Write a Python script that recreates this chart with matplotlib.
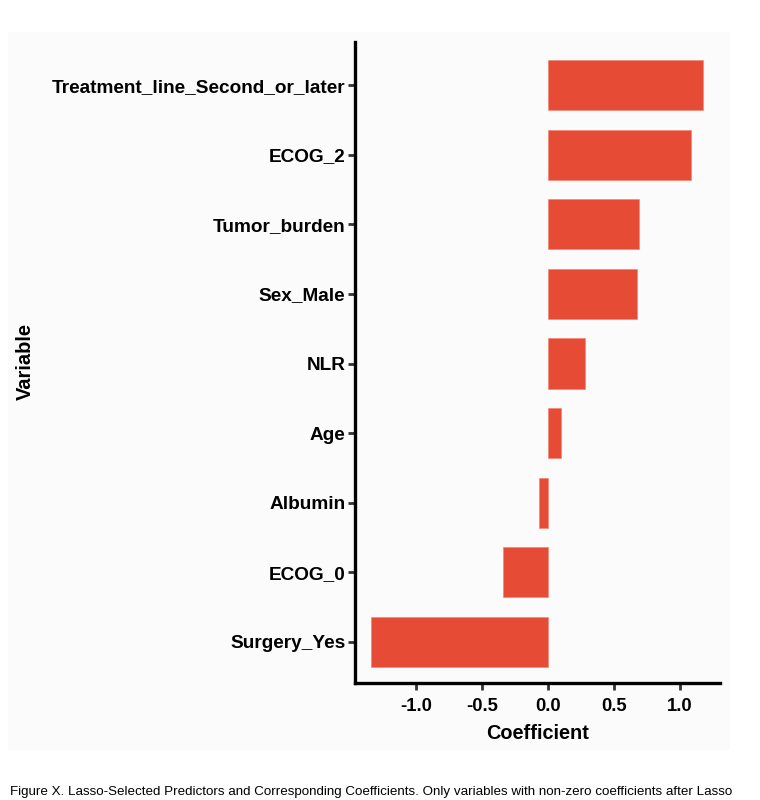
import matplotlib
matplotlib.use("Agg")
import matplotlib.pyplot as plt
from matplotlib.patches import Rectangle

# values, bottom to top
variables = ["Surgery_Yes", "ECOG_0", "Albumin", "Age", "NLR",
             "Sex_Male", "Tumor_burden", "ECOG_2", "Treatment_line_Second_or_later"]
coefs = [-1.34, -0.34, -0.07, 0.10, 0.28, 0.675, 0.69, 1.085, 1.175]
xticks = [-1.0, -0.5, 0.0, 0.5, 1.0]

bar_color = "#E64B35"
caption = ("Figure X. Lasso-Selected Predictors and Corresponding Coefficients. "
           "Only variables with non-zero coefficients after Lasso")

plt.rcParams['font.family'] = ['Liberation Sans', 'DejaVu Sans']

fig = plt.figure(figsize=(7.6, 8), dpi=100)
fig.patch.set_facecolor("white")
# very light panel behind the plot
fig.patches.append(Rectangle((8/760, 1-750/800), 722/760, 718/800,
                             transform=fig.transFigure, facecolor="#fbfbfb",
                             edgecolor="none", zorder=-1))

ax = fig.add_axes([355/760, 1-683/800, 365/760, 641/800])
ax.set_facecolor("none")
ypos = range(len(variables))
ax.barh(ypos, coefs, height=0.72, color=bar_color, edgecolor="#f08070", linewidth=0.4)

ax.set_xlim(-1.462, 1.303)
ax.set_ylim(-0.59, 8.62)
ax.set_yticks(list(ypos))
ax.set_yticklabels(variables)
ax.set_xticks(xticks)
ax.set_xticklabels([f"{t:.1f}" for t in xticks])

for s in ["top", "right"]:
    ax.spines[s].set_visible(False)
for s in ["left", "bottom"]:
    ax.spines[s].set_linewidth(2.4)
    ax.spines[s].set_color("black")

ax.tick_params(axis="both", length=5, width=2, color="#333333",
               labelcolor="black", pad=2)
ax.tick_params(axis="y", labelsize=13.7)
ax.tick_params(axis="x", labelsize=13.3, pad=6)
for lab in ax.get_yticklabels() + ax.get_xticklabels():
    lab.set_fontweight("bold")

ax.set_xlabel("Coefficient", fontsize=14.3, fontweight="bold", labelpad=6)
fig.text(25/760, 1-361/800, "Variable", rotation=90, fontsize=14.5,
         fontweight="bold", ha="center", va="center")

fig.text(10/760, 1-792/800, caption, fontsize=9.6, ha="left", va="center",
         family=['Liberation Sans Narrow', 'Liberation Sans', 'DejaVu Sans'])

fig.savefig("out.png", dpi=100)
